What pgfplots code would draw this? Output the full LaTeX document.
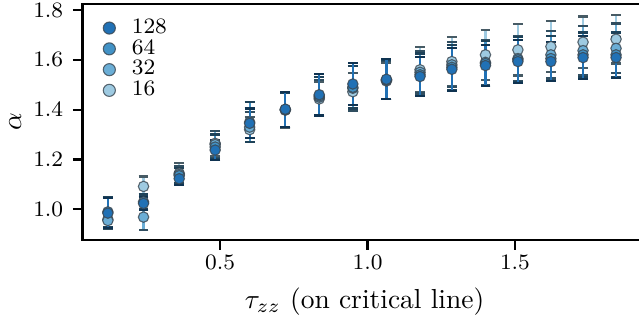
\documentclass[border=0pt]{standalone}
\usepackage{pgfplots}
\usepackage{pgfplotstable}
\pgfplotsset{compat=1.18}

\definecolor{c128}{HTML}{2171B5}
\definecolor{c64}{HTML}{4292C6}
\definecolor{c32}{HTML}{6BAED6}
\definecolor{c16}{HTML}{9ECAE1}
\definecolor{edge}{HTML}{3A4650}

% exponent alpha vs tau_zz along the critical line, one table per system size
\pgfplotstableread{
x      y      e
0.119  0.985  0.060
0.240  1.024  0.025
0.361  1.123  0.025
0.483  1.238  0.040
0.600  1.345  0.060
0.721  1.402  0.070
0.836  1.460  0.083
0.950  1.503  0.083
1.064  1.522  0.080
1.178  1.533  0.078
1.286  1.562  0.086
1.400  1.577  0.082
1.510  1.593  0.085
1.622  1.593  0.078
1.731  1.609  0.086
1.843  1.609  0.083
}\tabA
\pgfplotstableread{
x      y      e
0.119  0.990  0.060
0.240  1.030  0.030
0.361  1.135  0.030
0.483  1.250  0.050
0.600  1.350  0.080
0.721  1.400  0.068
0.836  1.455  0.075
0.950  1.490  0.085
1.064  1.520  0.078
1.178  1.540  0.085
1.286  1.570  0.090
1.400  1.585  0.090
1.510  1.600  0.090
1.622  1.605  0.090
1.731  1.620  0.090
1.843  1.620  0.090
}\tabB
\pgfplotstableread{
x      y      e
0.119  0.955  0.035
0.240  0.969  0.052
0.361  1.140  0.035
0.483  1.260  0.055
0.600  1.330  0.060
0.721  1.400  0.070
0.836  1.450  0.070
0.950  1.486  0.090
1.064  1.518  0.076
1.178  1.550  0.085
1.286  1.580  0.090
1.400  1.590  0.090
1.510  1.605  0.090
1.622  1.620  0.095
1.731  1.637  0.100
1.843  1.646  0.100
}\tabC
\pgfplotstableread{
x      y      e
0.119  0.960  0.035
0.240  1.092  0.040
0.361  1.145  0.040
0.483  1.265  0.050
0.600  1.320  0.050
0.721  1.398  0.072
0.836  1.443  0.070
0.950  1.472  0.076
1.064  1.515  0.073
1.178  1.560  0.090
1.286  1.593  0.097
1.400  1.620  0.100
1.510  1.640  0.103
1.622  1.653  0.103
1.731  1.671  0.103
1.843  1.683  0.098
}\tabD

\pgfplotsset{
  ser/.style={
    only marks, mark=*, mark size=1.9pt,
    mark options={fill=#1, draw=edge, draw opacity=0.8, line width=0.4pt},
    error bars/.cd, y dir=both, y explicit,
    error bar style={draw=#1, line width=0.8pt},
    error mark options={draw=#1!45!black, line width=0.8pt, mark size=1.8pt, rotate=90}
  }
}

\begin{document}
\begin{tikzpicture}
\begin{axis}[
  name=ax,
  scale only axis,
  width=205.1pt, height=85.8pt,
  xmin=0.033, xmax=1.947,
  ymin=0.877, ymax=1.824,
  xtick={0.5,1.0,1.5},
  ytick={1.0,1.2,1.4,1.6,1.8},
  xticklabel style={yshift=1.6pt, /pgf/number format/.cd, fixed, fixed zerofill, precision=1},
  yticklabel style={/pgf/number format/.cd, fixed, fixed zerofill, precision=1},
  tick label style={font=\footnotesize},
  tick align=outside, tick pos=left,
  major tick length=3.5pt,
  every tick/.style={black, line width=0.8pt},
  axis line style={line width=0.8pt},
  xlabel={$\tau_{zz}$ (on critical line)},
  ylabel={$\alpha$},
  ylabel style={yshift=-2.4pt},
  legend style={draw=none, fill=none, font=\footnotesize, at={(0.029,0.975)}, anchor=north west,
    row sep=-3.3pt, inner sep=1pt},
  legend image code/.code={
    \path (-2.4pt,0pt) (0.21cm,0pt);
    \draw[mark size=2.2pt] plot coordinates {(0cm,0cm)};
  },
  legend cell align=left,
  reverse legend,
]
\addplot+[ser=c16] table[x=x, y=y, y error=e] {\tabD};
\addlegendentry{16}
\addplot+[ser=c32] table[x=x, y=y, y error=e] {\tabC};
\addlegendentry{32}
\addplot+[ser=c64] table[x=x, y=y, y error=e] {\tabB};
\addlegendentry{64}
\addplot+[ser=c128] table[x=x, y=y, y error=e] {\tabA};
\addlegendentry{128}
\end{axis}
\pgfresetboundingbox
\path[use as bounding box] ([shift={(-30pt,-29.1pt)}]ax.south west) rectangle ([shift={(202.3pt,87.25pt)}]ax.south west);
\end{tikzpicture}
\end{document}
